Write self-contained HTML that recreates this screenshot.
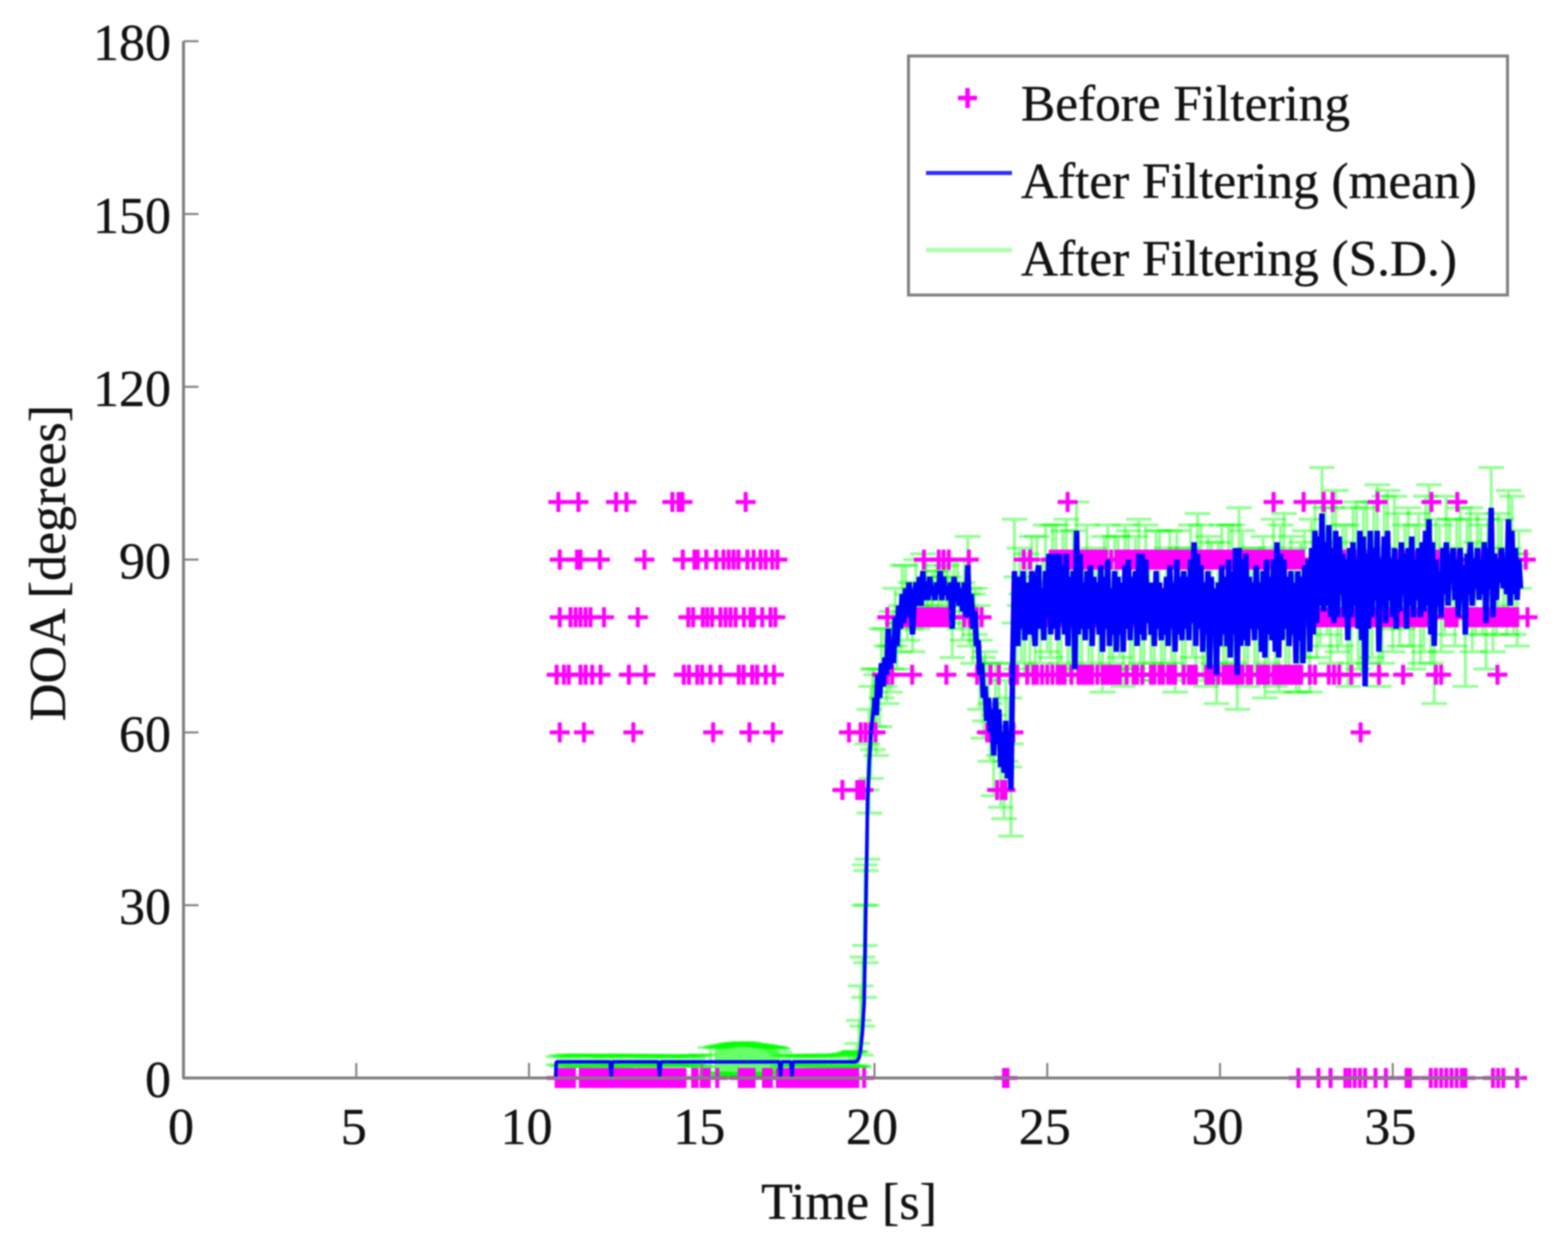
<!DOCTYPE html>
<html lang="en">
<head>
<meta charset="utf-8">
<title>DOA before and after filtering</title>
<style>
html,body{margin:0;padding:0;background:#fff;width:1555px;height:1258px;overflow:hidden}
svg{display:block;filter:blur(0.9px)}
text{font-family:"Liberation Serif",serif;fill:#111;stroke:#111;stroke-width:0.35px}
</style>
</head>
<body>
<svg id="chart" xmlns="http://www.w3.org/2000/svg" width="1555" height="1258" viewBox="0 0 1555 1258"></svg>
<script>
/* tick labels */
const xTickValues = [0,5,10,15,20,25,30,35];
const yTickValues = [0,30,60,90,120,150,180];

/* "Before Filtering" detections: one time list per DOA level (seconds) */
const doaLevels = [100,90,80,70,60,50,0];
const timesAt100 = [10.85,11.43,12.52,12.82,14.15,14.33,14.44,16.27,25.59,31.55,32.42,33.0,33.26,34.56,36.12,36.87];
const timesAt90 = [10.89,11.39,11.49,12.05,13.34,14.45,14.79,14.88,15.13,15.42,15.63,15.78,15.92,16.06,16.32,16.5,16.7,16.85,17.04,17.19,21.43,21.86,22.0,22.15,22.73,24.32,24.5,25.1,25.2,25.3,25.4,25.5,25.6,25.7,25.8,25.9,26.0,26.1,26.2,26.3,26.4,26.5,26.6,26.7,26.85,27.0,27.1,27.2,27.3,27.4,27.5,27.6,27.7,27.8,27.9,28.0,28.1,28.2,28.3,28.4,28.5,28.6,28.7,28.8,28.9,29.0,29.1,29.2,29.3,29.4,29.5,29.6,29.7,29.8,29.9,30.0,30.1,30.2,30.3,30.4,30.5,30.6,30.7,30.8,30.9,31.0,31.1,31.2,31.3,31.4,31.5,31.6,31.7,31.8,31.9,32.0,32.1,32.2,32.3,32.4,32.7,33.0,33.3,33.6,33.9,34.2,34.5,34.8,35.1,35.4,35.7,36.0,36.3,36.6,36.9,37.2,37.5,37.8,38.1,38.4,38.85];
const timesAt80 = [10.89,11.2,11.35,11.49,11.64,11.78,12.17,13.15,14.61,14.75,15.03,15.16,15.3,15.54,15.69,15.83,15.98,16.22,16.41,16.51,16.75,16.99,17.13,20.37,20.84,20.95,21.05,21.15,21.25,21.35,21.45,21.55,21.65,21.75,21.85,21.95,22.05,22.15,22.25,22.6,22.75,22.95,23.1,24.3,24.5,24.7,25.0,25.2,25.4,25.7,25.9,26.1,26.4,26.7,26.9,27.2,27.5,27.7,28.0,28.3,28.5,28.8,29.1,29.3,29.6,29.9,30.1,30.4,30.7,30.9,31.2,31.5,31.7,32.0,32.3,32.55,32.65,32.75,32.85,32.95,33.05,33.15,33.25,33.35,33.45,33.55,33.65,33.75,33.85,33.95,34.05,34.15,34.25,34.4,34.5,34.6,34.7,34.8,34.9,35.0,35.1,35.2,35.3,35.5,35.6,35.7,35.8,35.9,36.0,36.1,36.2,36.55,36.65,36.75,36.85,37.1,37.2,37.3,37.4,37.5,37.6,37.7,37.8,37.9,38.0,38.1,38.2,38.3,38.4,38.5,38.6,38.9];
const timesAt70 = [10.8,11.01,11.15,11.49,11.64,11.83,12.07,12.89,13.37,14.48,14.63,14.87,15.01,15.25,15.54,16.07,16.21,16.46,16.6,16.85,17.09,20.22,20.37,20.51,21.09,22.08,22.97,23.12,23.36,23.6,23.94,24.13,24.42,24.6,24.7,24.85,25.0,25.15,25.3,25.4,25.5,25.7,25.9,26.0,26.1,26.2,26.3,26.45,26.6,26.7,26.8,26.9,27.0,27.1,27.3,27.5,27.6,27.75,28.0,28.1,28.25,28.35,28.5,28.6,28.7,28.95,29.1,29.2,29.3,29.6,29.7,29.8,29.95,30.1,30.2,30.3,30.35,30.45,30.55,30.65,30.8,30.9,31.1,31.2,31.3,31.4,31.55,31.65,31.75,31.85,31.95,32.05,32.15,32.25,32.35,32.6,32.75,33.15,33.3,33.45,33.8,34.6,35.3,36.25,36.4,38.03];
const timesAt60 = [10.89,11.59,13.02,15.33,16.38,17.06,19.26,19.6,19.74,19.88,20.03,23.26,23.36,24.02,34.07];
const timesAt50 = [19.07,19.5,19.6,19.68,23.55,23.69,23.79];
const timesAt0 = [10.8,10.9,11.0,11.1,11.2,11.3,11.5,11.6,11.7,11.8,11.9,12.0,12.1,12.2,12.3,12.4,12.5,12.6,12.7,12.8,12.9,13.0,13.1,13.2,13.3,13.4,13.5,13.6,13.7,13.8,13.9,14.0,14.1,14.2,14.3,14.4,14.5,14.75,14.85,15.0,15.1,15.2,15.45,16.1,16.2,16.3,16.4,16.5,16.8,16.9,17.0,17.2,17.3,17.4,17.5,17.6,17.7,17.8,17.9,18.0,18.1,18.2,18.3,18.4,18.5,18.6,18.7,18.8,18.9,19.0,19.1,19.2,19.3,19.4,19.5,19.7,23.75,23.85,32.27,32.85,33.2,33.63,33.75,33.9,34.05,34.2,34.5,34.8,35.4,35.5,36.1,36.25,36.4,36.55,36.7,36.85,37.0,37.1,37.9,38.05,38.2,38.6];
const markerSeries = [timesAt100,timesAt90,timesAt80,timesAt70,timesAt60,timesAt50,timesAt0];

/* "After Filtering (mean)": flat opening section, read point by point */
const flatTimes = [10.77,10.79,12.35,12.38,12.41,13.75,13.78,13.81,17.25,17.28,17.31,17.58,17.61,17.64,19.45];
const flatMeans = [0,2.8,2.8,0.3,2.8,2.8,0.3,2.8,2.8,0.3,2.8,2.8,0.3,2.8,2.8];

/* mean samples from 19.5 s, one every 0.05 s */
const sampleStart = 19.5;
const sampleStep = 0.05;
const meanSamples = [
3,3.5,5,8,13,30,48,55,60,63,66,63,70,66,72,68,73,70,78,71,
76,72,80,75,82,78,84,79,85,80,86,82,77,83,86,82,87,82,88,83,
86,83,87,84,85,83,86,84,88,83,87,84,85,83,86,78,87,83,86,82,
85,81,86,80,89,80,84,78,81,75,76,70,72,66,68,62,66,60,64,56,
66,58,64,54,60,53,62,52,60,50,72,
88,79,75,87,78,88,76,86,82,77,88,79,75,87,89,78,85,76,88,80,
91,77,91,78,91,76,91,79,89,77,91,75,87,79,88,71,95,77,91,78,
86,76,88,78,89,75,87,79,86,77,89,74,87,78,90,75,85,77,88,74,
87,77,86,74,89,78,90,76,87,79,88,75,91,77,91,76,90,79,86,77,
86,75,88,78,86,76,85,77,87,75,89,78,86,74,90,77,87,76,88,78,
87,76,90,79,93,75,91,78,89,74,86,77,88,71,87,77,85,70,86,75,
89,77,87,75,90,73,88,77,92,70,92,75,90,76,91,75,87,78,86,76,
89,78,86,74,88,73,90,77,87,76,90,74,93,73,91,76,90,78,87,75,
88,77,86,72,88,76,87,72,89,80,90,74,92,77,95,79,94,82,98,81,
93,82,96,80,92,79,95,80,94,84,91,80,90,76,92,80,93,82,90,78,
95,76,94,68,91,78,95,80,92,83,95,74,90,82,94,79,95,83,90,80,
92,78,90,81,93,84,91,78,92,82,94,80,90,83,92,80,93,81,95,82,
97,77,93,75,90,82,88,80,92,84,93,82,91,86,92,83,90,80,92,85,
89,77,91,84,93,82,90,85,92,83,90,84,93,79,92,85,99,80,91,83,
90,86,92,85,88,84,97,82,95,84,92,83,90,85
];

/* "After Filtering (S.D.)": explicit bars up to 20 s */
const barTimes = [10.85,11.05,11.25,11.45,11.65,11.85,12.05,12.25,12.45,12.65,12.85,13.05,13.25,13.45,13.65,13.85,14.05,14.25,14.45,14.65,14.85,15.05,15.25,15.45,15.65,15.85,16.05,16.25,16.45,16.65,16.85,17.05,17.25,17.45,17.65,17.85,18.05,18.25,18.45,18.65,18.85,19.05,19.25,19.4,19.5,19.55,19.6,19.65,19.7,19.72,19.75,19.78,19.8,19.85,19.9,19.95];
const barCenters = [3,3,3,3,3,3,3,3,3,3,3,3,3,3,3,3,3,3,3,3,3,3,3,3,3,3.1,3.1,3,3,3,3,3,3,3,3,3,3,3,3,3,3,3.1,3.1,3.4,4,6,10,15,22,30,28,40,48,55,60,64];
const barSds = [0.7,0.8,0.9,1,1,0.9,0.8,0.7,0.8,1,1,0.9,0.8,0.7,0.8,0.8,0.7,0.8,0.9,0.7,0.8,1,2.3,2.5,2.6,2.8,2.8,2.7,2.6,2.5,2.5,2.4,1.5,0.9,0.8,0.8,0.8,0.8,0.8,0.8,0.9,1,1.1,1.2,2,4,6,6,8,7,8,10,10,9,8,7];

/* denser extra S.D. bars over the flat section and its 15-17 s bump */
const extraBarTimes = [10.95,11.15,11.35,11.55,11.75,11.95,12.15,12.35,12.55,12.75,12.95,13.15,13.35,13.55,13.75,13.95,14.15,14.35,14.55,14.75,14.95,15.4,15.5,15.55,15.6,15.7,15.75,15.8,15.9,15.95,16.0,16.1,16.15,16.2,16.3,16.35,16.4,16.5,16.55,16.6,16.7,16.75,16.8,16.9,16.95,17.0,17.1,17.15,17.2,17.35,17.55,17.75,17.95,18.15,18.35,18.55,18.75,18.95,19.15,19.3,19.35,19.42,19.45];
const extraBarCenters = [3,3,3,3,3,3,3,3,3,3,3,3,3,3,3,3,3,3,3,3,3,3.1,3.1,3.1,3.2,3.2,3.2,3.3,3.3,3.3,3.3,3.3,3.3,3.3,3.3,3.3,3.3,3.2,3.2,3.2,3.2,3.2,3.2,3.1,3.1,3.1,3.1,3.1,3.1,3,3,3,3,3,3,3,3,3,3.1,3.2,3.2,3.3,3.3];
const extraBarSds = [0.9,1,1,0.9,0.8,0.9,1,1,0.9,0.8,0.9,0.8,0.9,1,0.9,0.8,0.9,0.9,0.8,0.9,1,2.2,2.2,2.3,2.4,2.4,2.5,2.5,2.6,2.7,2.7,2.7,2.8,2.8,2.8,2.7,2.7,2.6,2.6,2.5,2.5,2.4,2.4,2.3,2.3,2.2,2.2,2.1,2,0.9,0.9,0.9,0.9,1,1,1,1,1,1.1,1.2,1.2,1.3,1.3];

/* S.D. for every third mean sample, starting at 20.0 s */
const sdFirstIndex = 10;
const sdIndexStride = 3;
const sdSamples = [
5,5,5,4,5,4,4,4,4,3,4,3,3,4,4,5,4,5,5,6,6,7,6,7,8,8,6,
9,5,6,7,5,6,8,4,5,7,
6,9,5,7,8,6,5,7,6,5,
7,6,5,8,6,7,5,6,9,5,
6,7,5,8,6,5,7,9,6,5,
7,6,8,6,5,7,6,8,6,5,
7,6,8,5,6,9,6,7,5,7,
6,8,7,9,6,8,10,6,9,7,
8,10,7,6,8,6,7,9,6,7,
6,10,8,7,6,8,7,9,6,8,
6,8,7,6,5,7,6,8
];

/* S.D. for the neighbouring samples, starting at 20.05 s */
const sdOffsetFirstIndex = 11;
const sdOffsetSamples = [
7,6,5,5,4,5,4,3,4,3,3,3,4,3,4,3,4,4,5,4,6,6,5,6,7,7,8,
8,6,5,6,7,5,6,5,7,6,
5,7,6,5,6,5,6,7,5,6,
4,7,5,6,5,6,5,7,6,5,
6,5,7,5,6,7,5,6,5,7,
5,6,5,7,6,5,6,4,7,5,
6,5,7,6,5,6,7,5,6,8,
5,7,6,5,8,6,7,5,6,8,
6,7,5,9,6,5,7,6,8,6,
5,7,6,8,6,7,5,6,8,6,
7,5,6,8,6,5,7,5
];

/* legend entries */
const legendLabels = ["Before Filtering","After Filtering (mean)","After Filtering (S.D.)"];

const SVG_NS = "http://www.w3.org/2000/svg";
const chart = document.getElementById("chart");
const xOrigin = 183.5, xPerSecond = 34.55;
const yOrigin = 1078, yPerDegree = 5.76;
const xAt = t => xOrigin + t * xPerSecond;
const yAt = d => yOrigin - d * yPerDegree;

function make(tag, attrs, parent) {
  const el = document.createElementNS(SVG_NS, tag);
  for (const k in attrs) el.setAttribute(k, attrs[k]);
  (parent || chart).appendChild(el);
  return el;
}

/* error bars */
const barGroup = make("g", {stroke:"#00ff00","stroke-width":3,"stroke-opacity":0.42,fill:"none"});


const capHalf = 0.37;
function drawBar(t, center, sd) {
  const x = xAt(t), lo = yAt(center - sd), hi = yAt(center + sd);
  const x0 = xAt(t - capHalf), x1 = xAt(t + capHalf);
  const bar = make("path", {d:`M${x} ${hi}V${lo}M${x0} ${hi}H${x1}M${x0} ${lo}H${x1}`}, barGroup);
  
  
}
barTimes.forEach((t, i) => drawBar(t, barCenters[i], barSds[i]));
extraBarTimes.forEach((t, i) => drawBar(t, extraBarCenters[i], extraBarSds[i]));
sdSamples.forEach((sd, i) => {
  const idx = sdFirstIndex + i * sdIndexStride;
  drawBar(sampleStart + idx * sampleStep, meanSamples[idx], sd);
});
sdOffsetSamples.forEach((sd, i) => {
  const idx = sdOffsetFirstIndex + i * sdIndexStride;
  drawBar(sampleStart + idx * sampleStep, meanSamples[idx], sd);
});

/* before-filtering markers */
const markerGroup = make("g", {stroke:"#ff00ff","stroke-width":4,fill:"none"});


markerSeries.forEach((times, i) => {
  times.forEach(t => {
    const cx = xAt(t), cy = yAt(doaLevels[i]);
    const mark = make("path", {d:`M${cx-10} ${cy}H${cx+10}M${cx} ${cy-10}V${cy+10}`}, markerGroup);
    
    
  });
});

/* mean line: thin through the flat section and the rise, heavy in the noisy section */
const riseEnd = 10;
const risePoints = flatTimes.map((t, i) => `${xAt(t)},${yAt(flatMeans[i])}`)
  .concat(meanSamples.slice(0, riseEnd + 1).map((v, i) => `${xAt(sampleStart + i * sampleStep)},${yAt(v)}`));
const riseLine = make("polyline", {points:risePoints.join(" "),fill:"none",stroke:"#0000ff","stroke-width":3.6,"stroke-linejoin":"bevel"});


const noisyPoints = meanSamples.slice(riseEnd).map((v, i) => `${xAt(sampleStart + (i + riseEnd) * sampleStep)},${yAt(v)}`);
const noisyLine = make("polyline", {points:noisyPoints.join(" "),fill:"none",stroke:"#0000ff","stroke-width":5.5,"stroke-linejoin":"bevel"});



/* axes */
const axisColor = "#808080";
const yAxis = make("line", {x1:xOrigin,y1:yAt(180),x2:xOrigin,y2:yOrigin,stroke:axisColor,"stroke-width":3});


const xAxis = make("line", {x1:xOrigin-1,y1:yOrigin,x2:1522,y2:yOrigin,stroke:axisColor,"stroke-width":3});



xTickValues.forEach(v => {
  const tick = make("line", {x1:xAt(v),y1:yOrigin,x2:xAt(v),y2:yOrigin-15,stroke:axisColor,"stroke-width":2});
  
  
  const label = make("text", {x:xAt(v)-2.5,y:1144,"font-size":52,"text-anchor":"middle"});
  label.textContent = v;
  
  
});
yTickValues.forEach(v => {
  const tick = make("line", {x1:xOrigin,y1:yAt(v),x2:xOrigin+15,y2:yAt(v),stroke:axisColor,"stroke-width":2});
  
  
  const label = make("text", {x:171,y:yAt(v)+19,"font-size":52,"text-anchor":"end"});
  label.textContent = v;
  
  
});

const xTitle = make("text", {x:849,y:1219,"font-size":52,"text-anchor":"middle"});
xTitle.textContent = "Time [s]";


const yTitle = make("text", {x:0,y:0,"font-size":52,"text-anchor":"middle",transform:"translate(65 563) rotate(-90)"});
yTitle.textContent = "DOA [degrees]";



/* legend */
const legend = make("g", {});


const legendBox = make("rect", {x:908.5,y:56,width:599,height:239,fill:"#fff",stroke:"#808080","stroke-width":3}, legend);


const legendMarker = make("path", {d:"M958 98H977M967.5 88V108",stroke:"#ff00ff","stroke-width":4.5,fill:"none"}, legend);


const legendBlue = make("line", {x1:926,y1:173,x2:1012,y2:173,stroke:"#2a2aff","stroke-width":4}, legend);


const legendGreen = make("line", {x1:926,y1:250,x2:1012,y2:250,stroke:"#adffad","stroke-width":4.5}, legend);


legendLabels.forEach((s, i) => {
  const entry = make("text", {x:1021,y:120.5+i*77.5,"font-size":51.3}, legend);
  entry.textContent = s;
  
  
});
</script>
</body>
</html>
